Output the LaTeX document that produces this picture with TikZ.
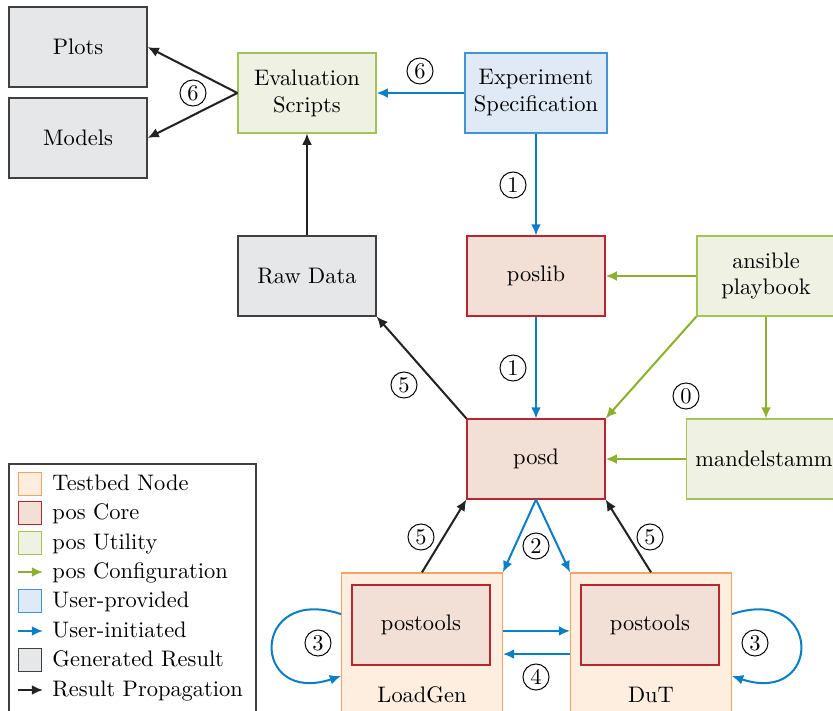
\documentclass[tikz,border=0pt]{standalone}
\usetikzlibrary{arrows.meta}
\definecolor{tbfill}{HTML}{FDEEE0}
\definecolor{tbdraw}{HTML}{F5A263}
\definecolor{corefill}{HTML}{F2DFD5}
\definecolor{coredraw}{HTML}{B8262F}
\definecolor{utilfill}{HTML}{EFF1E3}
\definecolor{utildraw}{HTML}{A3C455}
\definecolor{cfgarrow}{HTML}{8DB02E}
\definecolor{userfill}{HTML}{DFEAF6}
\definecolor{userdraw}{HTML}{3F96D4}
\definecolor{userarrow}{HTML}{0A7FC6}
\definecolor{genfill}{HTML}{E6E7E9}
\definecolor{gendraw}{HTML}{404040}
\definecolor{resarrow}{HTML}{222222}
\begin{document}
\begin{tikzpicture}[x=0.4454pt,y=-0.4454pt,
  box/.style={draw, line width=0.5pt, minimum width=61.5pt, minimum height=35.6pt,
    inner xsep=4pt, align=center},
  core/.style={box, fill=corefill, draw=coredraw},
  util/.style={box, fill=utilfill, draw=utildraw},
  userbox/.style={box, fill=userfill, draw=userdraw},
  gen/.style={box, fill=genfill, draw=gendraw},
  testbed/.style={draw=tbdraw, fill=tbfill, line width=0.6pt, minimum width=71.5pt,
    minimum height=66.8pt},
  arr/.style={line width=0.9pt, -{Latex[length=5pt,width=4.4pt]}},
  cfg/.style={arr, draw=cfgarrow},
  usr/.style={arr, draw=userarrow},
  res/.style={arr, draw=resarrow},
  num/.style={circle, draw, line width=0.45pt, inner sep=0pt, minimum size=11.6pt},
  swatch/.style={draw, line width=0.6pt, minimum size=10.4pt, inner sep=0pt},
  legtext/.style={anchor=west, inner sep=0pt, text height=1.6ex, text depth=0.3ex}
]
\clip (0,0) rectangle (833,711);

% result boxes
\node[gen] (plots) at (78,47) {Plots};
\node[gen] (models) at (78,138) {Models};
\node[gen] (raw) at (307,276) {Raw Data};

% utilities and user input
\node[util] (eval) at (307,93) {Evaluation\\Scripts};
\node[userbox] (spec) at (536,93) {Experiment\\Specification};
\node[util] (ansible) at (766,276) {ansible\\playbook};
\node[util] (mandel) at (764,459) {mandelstamm};

% pos core
\node[core] (poslib) at (536,276) {poslib};
\node[core] (posd) at (536,459) {posd};

% testbed nodes
\node[testbed] (lg) at (422,648) {};
\node[testbed] (dut) at (651,648) {};
\node[core] (lgtools) at (421,625) {postools};
\node[core] (duttools) at (650,625) {postools};
\node (lglabel) at (422,695) {LoadGen};
\node (dutlabel) at (651,695) {DuT};

% evaluation
\draw[res] (eval.west) -- (plots.east);
\draw[res] (eval.west) -- (models.east);
\draw[usr] (spec.west) -- (eval.east);
\draw[res] (raw.north) -- (eval.south);
\draw[res] (posd.north west) -- (raw.south east);

% control flow
\draw[usr] (spec.south) -- (poslib.north);
\draw[usr] (poslib.south) -- (posd.north);
\draw[usr] (posd.south) -- (lg.north east);
\draw[usr] (posd.south) -- (dut.north west);
\draw[res] (lg.north) -- (posd.south west);
\draw[res] (dut.north) -- (posd.south east);
\draw[usr] ([yshift=7.6pt]lg.east) -- ([yshift=7.6pt]dut.west);
\draw[usr] ([yshift=-2.7pt]dut.west) -- ([yshift=-2.7pt]lg.east);
\draw[usr] ([yshift=15.1pt]lg.west) .. controls +(-91,-30) and +(-91,30) .. ([yshift=-12.5pt]lg.west);
\draw[usr] ([yshift=15.1pt]dut.east) .. controls +(91,-30) and +(91,30) .. ([yshift=-12.5pt]dut.east);

% configuration
\draw[cfg] (ansible.west) -- (poslib.east);
\draw[cfg] (ansible.south west) -- (posd.north east);
\draw[cfg] (ansible.south) -- (ansible.south |- mandel.north);
\draw[cfg] (mandel.west) -- (posd.east);

% step numbers
\node[num] (n6a) at (193,93) {6};
\node[num] (n6b) at (420,71) {6};
\node[num] (n1a) at (513,185) {1};
\node[num] (n1b) at (513,368) {1};
\node[num] (n0) at (686,396) {0};
\node[num] (n5a) at (404,385) {5};
\node[num] (n5b) at (421,537) {5};
\node[num] (n5c) at (650,537) {5};
\node[num] (n2) at (536,546) {2};
\node[num] (n4) at (536,677) {4};
\node[num] (n3a) at (318,643) {3};
\node[num] (n3b) at (755,643) {3};

% legend
\draw[draw=gendraw, fill=white, line width=0.6pt] (9,464) rectangle (256,730);
\node[swatch, fill=tbfill, draw=tbdraw] (sw1) at (30,484) {};
\node[swatch, fill=corefill, draw=coredraw] (sw2) at (30,513) {};
\node[swatch, fill=utilfill, draw=utildraw] (sw3) at (30,543) {};
\coordinate (a4s) at (18,572);
\coordinate (a4e) at (43,572);
\draw[cfg] (a4s) -- (a4e);
\node[swatch, fill=userfill, draw=userdraw] (sw5) at (30,601) {};
\coordinate (a6s) at (18,631);
\coordinate (a6e) at (43,631);
\draw[usr] (a6s) -- (a6e);
\node[swatch, fill=genfill, draw=gendraw] (sw7) at (30,660) {};
\coordinate (a8s) at (18,690);
\coordinate (a8e) at (43,690);
\draw[res] (a8s) -- (a8e);
\node[legtext] (t1) at (52,484) {Testbed Node};
\node[legtext] (t2) at (52,513) {pos Core};
\node[legtext] (t3) at (52,543) {pos Utility};
\node[legtext] (t4) at (52,572) {pos Configuration};
\node[legtext] (t5) at (52,601) {User-provided};
\node[legtext] (t6) at (52,631) {User-initiated};
\node[legtext] (t7) at (52,660) {Generated Result};
\node[legtext] (t8) at (52,690) {Result Propagation};
\end{tikzpicture}
\end{document}
